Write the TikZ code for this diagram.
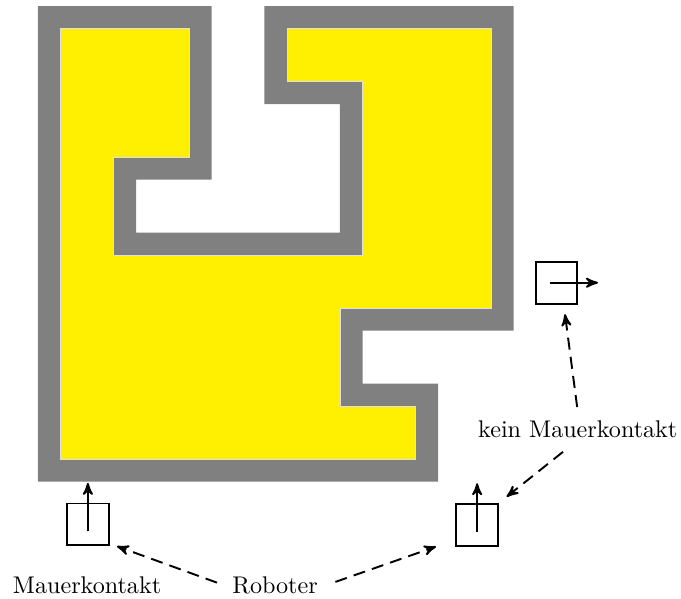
\documentclass[tikz,border=0pt]{standalone}
\usetikzlibrary{arrows}
\definecolor{floor}{RGB}{255,239,0}
\tikzset{
	robot/.style={draw, thick, minimum size=0.61cm, inner sep=0pt},
	hint/.style={->, thick, dash pattern=on 5pt off 3pt}
}
\begin{document}
\begin{tikzpicture}[x=1.1cm, y=1.1cm, >=stealth']
	\useasboundingbox (-0.503,-1.854) rectangle (8.517,6.08);
	%wall
	\fill[gray] (0,6) -- (2.3,6) -- (2.3,3.7) -- (1.3,3.7) -- (1.3,3) -- (4,3)
	-- (4,4.7) -- (3,4.7) -- (3,6) -- (6.3,6) -- (6.3,1.7) -- (4.3,1.7)
	-- (4.3,1) -- (5.3,1) -- (5.3,-0.3) -- (0,-0.3) -- cycle;
	%floor
	\filldraw[fill=floor, draw=gray!25, line width=0.3pt] (0.3,5.7) -- (2,5.7) -- (2,4)
	-- (1,4) -- (1,2.7) -- (4.3,2.7) -- (4.3,5) -- (3.3,5) -- (3.3,5.7)
	-- (6,5.7) -- (6,2) -- (4,2) -- (4,0.7) -- (5,0.7) -- (5,0) -- (0.3,0) -- cycle;
	%robots
	\node[robot] (robA) at (0.661,-0.866) {};
	\node[robot] (robB) at (5.817,-0.87) {};
	\node[robot] (robC) at (6.868,2.335) {};
	\draw[->, thick] ([yshift=-0.1cm]robA.center) -- ++(0,0.64);
	\draw[->, thick] ([yshift=-0.1cm]robB.center) -- ++(0,0.64);
	\draw[->, thick] ([xshift=-0.1cm]robC.center) -- ++(0.64,0);
	%labels
	\node (kontakt) at (0.65,-1.67) {Mauerkontakt};
	\node (roboter) at (3.14,-1.67) {Roboter};
	\node (kein) at (7.15,0.40) {kein Mauerkontakt};
	\draw[hint, shorten <=3pt] (roboter.west) -- ([xshift=3pt]robA.south east);
	\draw[hint, shorten <=4pt] (roboter.east) -- ([xshift=-8pt]robB.south west);
	\draw[hint, shorten <=2pt, shorten >=4pt] (kein.north) -- ([xshift=3pt]robC.south);
	\draw[hint, shorten <=4pt, shorten >=4pt] ([xshift=-3pt]kein.south) -- (robB.north east);
\end{tikzpicture}
\end{document}
